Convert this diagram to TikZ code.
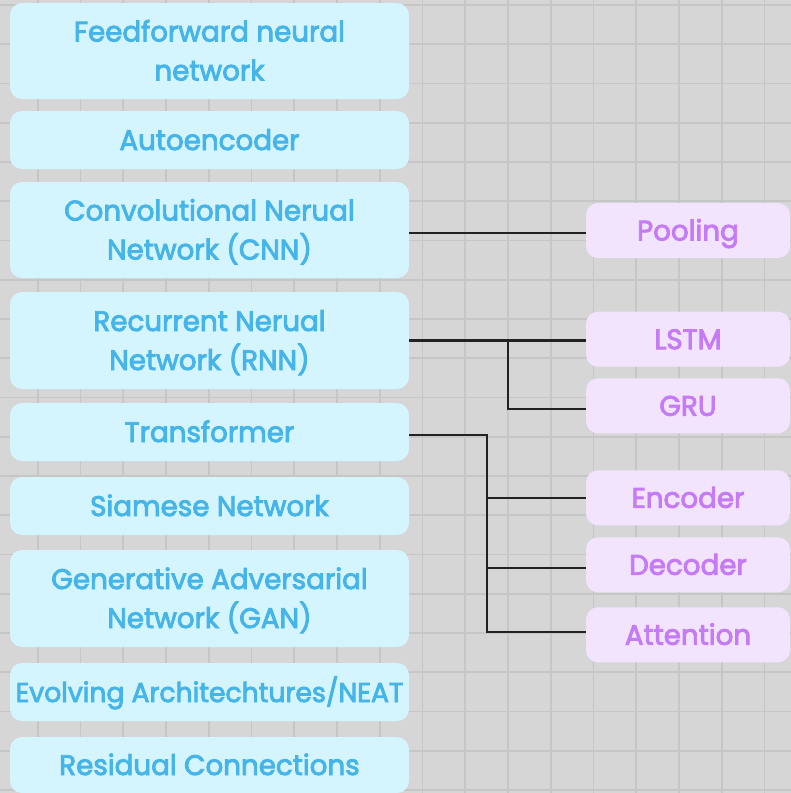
\documentclass[tikz,border=0pt]{standalone}
\usepackage{fontspec}
\setmainfont[FakeStretch=0.98,FakeBold=3]{Poppins}
\definecolor{bgc}{HTML}{D6D6D6}
\definecolor{gridc}{HTML}{C6C6C6}
\definecolor{archfill}{HTML}{D4F4FE}
\definecolor{archtext}{HTML}{45B4E8}
\definecolor{partfill}{HTML}{F3E4FE}
\definecolor{parttext}{HTML}{C57AF6}
\definecolor{linkc}{HTML}{222222}
\tikzset{
  arch/.style={fill=archfill, text=archtext, rounded corners=12pt,
    minimum width=399pt, inner sep=0pt, align=center,
    font=\fontsize{28.3}{39}\selectfont, text height=20pt, text depth=0pt},
  archtwo/.style={arch, text height=59pt},
  part/.style={fill=partfill, text=parttext, rounded corners=12pt,
    minimum width=204pt, minimum height=55pt, inner sep=0pt,
    font=\fontsize{28.3}{39}\selectfont, text height=20pt, text depth=0pt},
  link/.style={draw=linkc, line width=2.2pt}
}
\begin{document}
\begin{tikzpicture}[x=1pt,y=-1pt]
  % canvas and grid
  \fill[bgc] (0,0) rectangle (791,793);
  \useasboundingbox (0,0) rectangle (791,793);
  \begin{scope}
    \clip (0,0) rectangle (791,793);
    \foreach \k in {0,...,17}
      \draw[gridc, line width=1.6pt] (37.7+42.75*\k,0) -- (37.7+42.75*\k,793);
    \foreach \k in {0,...,20}
      \draw[gridc, line width=1.6pt] (0,5+39.25*\k) -- (791,5+39.25*\k);

    % architectures
    \node[archtwo, minimum height=96pt] (ffn) at (209.5,51) {Feedforward neural\\network};
    \node[arch, minimum height=58pt] (ae) at (209.5,140) {Autoencoder};
    \node[archtwo, minimum height=96pt] (cnn) at (209.5,230) {Convolutional Nerual\\Network (CNN)};
    \node[archtwo, minimum height=97pt] (rnn) at (209.5,340.5) {Recurrent Nerual\\Network (RNN)};
    \node[arch, minimum height=58pt] (trf) at (209.5,432) {Transformer};
    \node[arch, minimum height=58pt] (siam) at (209.5,506) {Siamese Network};
    \node[archtwo, minimum height=97pt] (gan) at (209.5,598.5) {Generative Adversarial\\Network (GAN)};
    \node[arch, minimum height=58pt, font=\fontsize{27.2}{39}\selectfont] (neat) at (209.5,692) {Evolving Architechtures/NEAT};
    \node[arch, minimum height=56pt] (res) at (209.5,765) {Residual Connections};

    % components
    \node[part] (pool) at (688,230.5) {Pooling};
    \node[part] (lstm) at (688,339.2) {LSTM};
    \node[part] (gru) at (688,405.8) {GRU};
    \node[part] (enc) at (688,497.8) {Encoder};
    \node[part] (dec) at (688,564.8) {Decoder};
    \node[part] (att) at (688,634.8) {Attention};

    % connectors (canvas y points up, so a negative yshift moves down)
    \coordinate (rj) at (508.3,340);
    \coordinate (tj) at (486.7,435);
    \coordinate (pin) at ([yshift=-2.5pt]pool.west);
    \coordinate (gin) at ([yshift=-3pt]gru.west);
    \coordinate (ain) at ([yshift=2.5pt]att.west);
    \coordinate (din) at ([yshift=-3.5pt]dec.west);
    \draw[link] (cnn.east |- pin) -- (pin);
    \draw[link] (rnn.east) -- (rnn.east -| lstm.west);
    \draw[link] (rj) |- (gin);
    \draw[link] (trf.east |- tj) -- (tj) |- (ain);
    \draw[link] (tj |- enc.west) -- (enc.west);
    \draw[link] (tj |- din) -- (din);
  \end{scope}
\end{tikzpicture}
\end{document}
